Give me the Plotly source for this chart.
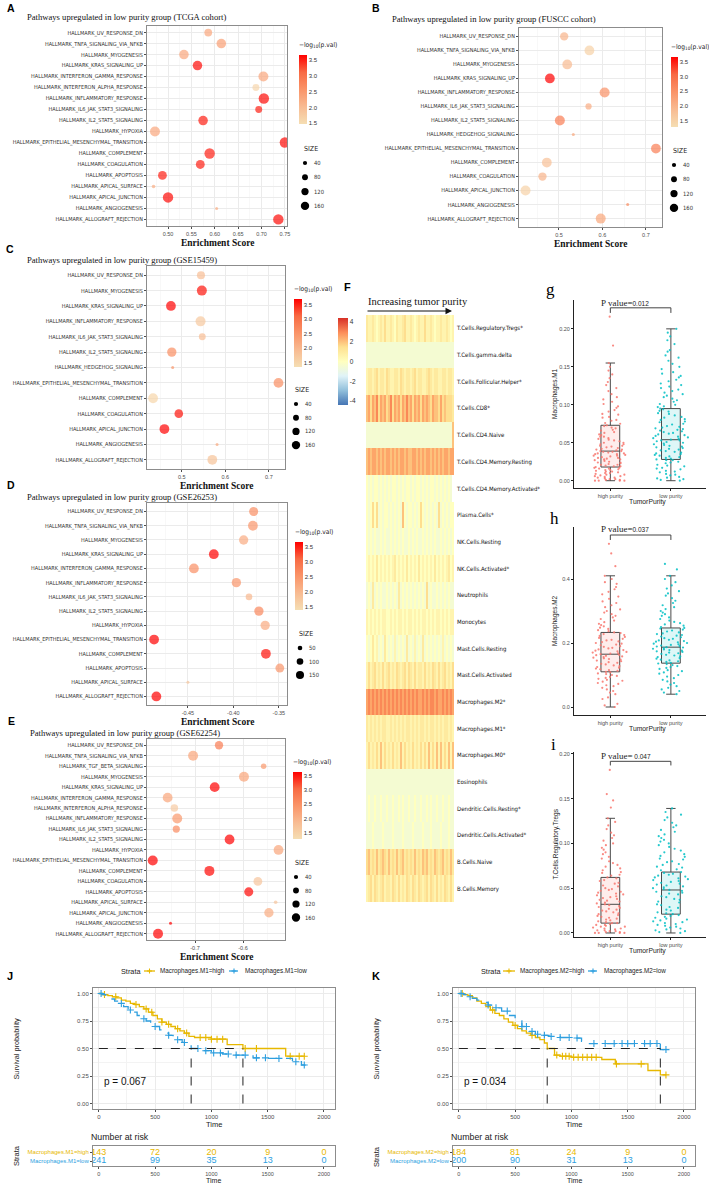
import math
import plotly.graph_objects as go

W, H = 709, 1185
SANS = "Liberation Sans, Arial, sans-serif"
NARROW = "Liberation Sans Narrow, DejaVu Sans Condensed, Arial Narrow, Roboto Condensed, sans-serif"
SERIF = "Liberation Serif, Times New Roman, serif"

# ------------------------------------------------------------------ data: GSEA bubble panels
A_paths = ["UV_RESPONSE_DN", "TNFA_SIGNALING_VIA_NFKB", "MYOGENESIS", "KRAS_SIGNALING_UP",
           "INTERFERON_GAMMA_RESPONSE", "INTERFERON_ALPHA_RESPONSE", "INFLAMMATORY_RESPONSE",
           "IL6_JAK_STAT3_SIGNALING", "IL2_STAT5_SIGNALING", "HYPOXIA",
           "EPITHELIAL_MESENCHYMAL_TRANSITION", "COMPLEMENT", "COAGULATION", "APOPTOSIS",
           "APICAL_SURFACE", "APICAL_JUNCTION", "ANGIOGENESIS", "ALLOGRAFT_REJECTION"]
A_es = [0.586, 0.614, 0.534, 0.563, 0.704, 0.688, 0.705, 0.694, 0.575, 0.472, 0.750, 0.589,
        0.569, 0.488, 0.469, 0.500, 0.604, 0.736]
A_logp = [2.3, 2.4, 2.3, 3.6, 2.3, 1.6, 3.6, 3.5, 3.5, 2.3, 3.6, 3.5, 3.5, 3.5, 2.2, 3.6, 2.2, 3.6]
A_size = [70, 105, 105, 105, 115, 55, 125, 55, 105, 115, 125, 125, 90, 90, 15, 125, 10, 125]

B_paths = ["UV_RESPONSE_DN", "TNFA_SIGNALING_VIA_NFKB", "MYOGENESIS", "KRAS_SIGNALING_UP",
           "INFLAMMATORY_RESPONSE", "IL6_JAK_STAT3_SIGNALING", "IL2_STAT5_SIGNALING",
           "HEDGEHOG_SIGNALING", "EPITHELIAL_MESENCHYMAL_TRANSITION", "COMPLEMENT", "COAGULATION",
           "APICAL_JUNCTION", "ANGIOGENESIS", "ALLOGRAFT_REJECTION"]
B_es = [0.512, 0.570, 0.519, 0.479, 0.605, 0.568, 0.502, 0.533, 0.723, 0.472, 0.462, 0.423, 0.658, 0.596]
B_logp = [2.0, 1.5, 1.9, 3.7, 2.5, 2.1, 2.8, 2.2, 2.8, 1.8, 2.0, 1.5, 2.6, 2.2]
B_size = [80, 110, 110, 110, 115, 45, 115, 8, 110, 110, 80, 115, 10, 115]

C_paths = ["UV_RESPONSE_DN", "MYOGENESIS", "KRAS_SIGNALING_UP", "INFLAMMATORY_RESPONSE",
           "IL6_JAK_STAT3_SIGNALING", "IL2_STAT5_SIGNALING", "HEDGEHOG_SIGNALING",
           "EPITHELIAL_MESENCHYMAL_TRANSITION", "COMPLEMENT", "COAGULATION", "APICAL_JUNCTION",
           "ANGIOGENESIS", "ALLOGRAFT_REJECTION"]
C_es = [0.544, 0.546, 0.475, 0.543, 0.547, 0.477, 0.479, 0.722, 0.434, 0.493, 0.460, 0.581, 0.570]
C_logp = [1.9, 3.6, 3.7, 1.7, 1.9, 2.6, 2.5, 2.6, 1.5, 3.6, 3.7, 2.2, 1.8]
C_size = [75, 115, 110, 115, 55, 100, 8, 110, 110, 85, 110, 6, 110]

D_paths = ["UV_RESPONSE_DN", "TNFA_SIGNALING_VIA_NFKB", "MYOGENESIS", "KRAS_SIGNALING_UP",
           "INTERFERON_GAMMA_RESPONSE", "INFLAMMATORY_RESPONSE", "IL6_JAK_STAT3_SIGNALING",
           "IL2_STAT5_SIGNALING", "HYPOXIA", "EPITHELIAL_MESENCHYMAL_TRANSITION", "COMPLEMENT",
           "APOPTOSIS", "APICAL_SURFACE", "ALLOGRAFT_REJECTION"]
D_es = [-0.3777, -0.3785, -0.3887, -0.4215, -0.4434, -0.3967, -0.3828, -0.3719, -0.3650,
        -0.4872, -0.3642, -0.3489, -0.4500, -0.4847]
D_logp = [2.6, 2.5, 2.2, 3.7, 2.6, 2.5, 2.0, 2.7, 2.2, 3.7, 3.6, 2.5, 1.8, 3.7]
D_size = [95, 110, 100, 110, 110, 100, 50, 100, 100, 110, 110, 90, 6, 110]

E_paths = ["UV_RESPONSE_DN", "TNFA_SIGNALING_VIA_NFKB", "TGF_BETA_SIGNALING", "MYOGENESIS",
           "KRAS_SIGNALING_UP", "INTERFERON_GAMMA_RESPONSE", "INTERFERON_ALPHA_RESPONSE",
           "INFLAMMATORY_RESPONSE", "IL6_JAK_STAT3_SIGNALING", "IL2_STAT5_SIGNALING", "HYPOXIA",
           "EPITHELIAL_MESENCHYMAL_TRANSITION", "COMPLEMENT", "COAGULATION", "APOPTOSIS",
           "APICAL_SURFACE", "APICAL_JUNCTION", "ANGIOGENESIS", "ALLOGRAFT_REJECTION"]
E_es = [-0.650, -0.704, -0.557, -0.598, -0.659, -0.757, -0.743, -0.737, -0.739, -0.628, -0.526,
        -0.788, -0.670, -0.569, -0.588, -0.532, -0.546, -0.751, -0.777]
E_logp = [2.8, 2.2, 2.4, 2.2, 3.7, 2.2, 1.6, 2.4, 2.6, 3.7, 2.2, 3.7, 3.6, 1.7, 3.6, 1.7, 2.1, 3.7, 3.7]
E_size = [80, 115, 35, 115, 110, 110, 65, 115, 60, 110, 110, 115, 115, 90, 95, 15, 100, 8, 115]

A_xticks = [0.50, 0.55, 0.60, 0.65, 0.70, 0.75]
A_xlabels = ["0.50", "0.55", "0.60", "0.65", "0.70", "0.75"]
BC_xticks = [0.5, 0.6, 0.7]
BC_xlabels = ["0.5", "0.6", "0.7"]
D_xticks = [-0.45, -0.40, -0.35]
D_xlabels = ["-0.45", "-0.40", "-0.35"]
E_xticks = [-0.7, -0.6]
E_xlabels = ["-0.7", "-0.6"]
P_ticks = [1.5, 2.0, 2.5, 3.0, 3.5]
P_labels = ["1.5", "2.0", "2.5", "3.0", "3.5"]
SIZE_legend_4 = [40, 80, 120, 160]
SIZE_legend_3 = [50, 100, 150]

# ------------------------------------------------------------------ data: heatmap (F)
F_rows = ["T.Cells.Regulatory.Tregs*", "T.Cells.gamma.delta", "T.Cells.Follicular.Helper*",
          "T.Cells.CD8*", "T.Cells.CD4.Naive", "T.Cells.CD4.Memory.Resting",
          "T.Cells.CD4.Memory.Activated*", "Plasma.Cells*", "NK.Cells.Resting", "NK.Cells.Activated*",
          "Neutrophils", "Monocytes", "Mast.Cells.Resting", "Mast.Cells.Activated", "Macrophages.M2*",
          "Macrophages.M1*", "Macrophages.M0*", "Eosinophils", "Dendritic.Cells.Resting*",
          "Dendritic.Cells.Activated*", "B.Cells.Naive", "B.Cells.Memory"]
# one character per sample column (ordered by tumor purity); level code -> value below
F_codes = [
    "21121012131121021123112101211311210112112101",
    "aaaaaaaaaaaaaaaaaaaaaaaaaaaaaaaaaaaaaaaaaaaa",
    "12212312213211221321221231221123212211221221",
    "45354635453463545354645354535454354435343332",
    "aaaaaaaaaaaaaaaaaaaaaaaaaaaaaaaaaaaaaaaaaaa4",
    "45455454545545454554544554545455454545455455",
    "0a0a00a0a0a0a00a0a0a00a0a00a0a0a00a0a0a0a0a",
    "0a0303a0a00a0a0a0a40a00a0a030a0a0a0a3a0a0a00",
    "0a0a0aa0a0aa0a0a0a0aa0a0a0aa0a0a0a0aa0a0a0a0",
    "01010201010101201010201010201010102010101201",
    "a0a2a0a0aa0a0a0a2a0a0a0a0a0a0a3a0aa0a0a0a0aa",
    "10101010110010101101011010101101010110101011",
    "0a0201a0a20a0a1a0a0a2a0a1a0a2a0a0a0a0a1a0a0a",
    "13123121312312132123132131221312132131231213",
    "56565656565656565656565656556565665655656565",
    "21212121221121212121221212122121221212122121",
    "13121314131213121413121312131314131414131414",
    "aaaaaaaaaaaaaaaaaaaaaaaaaaaaaaaaaaaaaaaaaaaa",
    "a0aa0aa0aa0aa0aa0a0aa0aa0aa0aa0a0aa0aa0aa0aa",
    "aaa0aaaa0aaaa0aaaa0aaaa0aaaa0aaa0aaaa0aaa0aa",
    "34232423432423242342323242324342324323423242",
    "12313212312213213121321321321231321312132131",
]
F_levels = {"a": -0.5, "0": 0.0, "1": 0.5, "2": 1.0, "3": 1.5, "4": 2.0, "5": 2.5, "6": 3.0}
F_cticks = [4, 2, 0, -2, -4]
F_clabels = ["4", "2", "0", "-2", "-4"]

# ------------------------------------------------------------------ data: box plots (g, h, i)
groups = ["high purity", "low purity"]
g_high = [0.000, 0.000, 0.000, 0.001, 0.002, 0.003, 0.004, 0.005, 0.006, 0.007, 0.008, 0.009, 0.010,
          0.011, 0.012, 0.013, 0.014, 0.015, 0.016, 0.017, 0.018, 0.019, 0.020, 0.021, 0.022, 0.024,
          0.025, 0.027, 0.028, 0.029, 0.030, 0.031, 0.033, 0.034, 0.035, 0.036, 0.037, 0.038, 0.039,
          0.040, 0.041, 0.043, 0.045, 0.046, 0.048, 0.050, 0.052, 0.054, 0.056, 0.058, 0.061, 0.064,
          0.067, 0.070, 0.073, 0.076, 0.080, 0.084, 0.088, 0.093, 0.098, 0.104, 0.110, 0.118, 0.126,
          0.135, 0.145, 0.155, 0.178, 0.216,
          0.000, 0.001, 0.002, 0.004, 0.006, 0.008, 0.010, 0.012, 0.014, 0.016, 0.017, 0.019, 0.021,
          0.023, 0.024, 0.026, 0.028, 0.030, 0.032, 0.033, 0.035, 0.036, 0.038, 0.039, 0.041, 0.042,
          0.044, 0.046, 0.048, 0.050, 0.053, 0.055, 0.058, 0.060, 0.063, 0.066, 0.069, 0.072, 0.075,
          0.079, 0.083, 0.087, 0.091, 0.096, 0.101, 0.107, 0.114, 0.122, 0.130, 0.140, 0.150]
g_low = [0.000, 0.001, 0.003, 0.005, 0.007, 0.009, 0.011, 0.013, 0.015, 0.017, 0.019, 0.021, 0.023,
         0.025, 0.027, 0.028, 0.030, 0.032, 0.034, 0.036, 0.038, 0.040, 0.042, 0.044, 0.046, 0.047,
         0.049, 0.050, 0.052, 0.053, 0.054, 0.056, 0.058, 0.060, 0.062, 0.064, 0.066, 0.068, 0.070,
         0.072, 0.075, 0.078, 0.080, 0.083, 0.086, 0.089, 0.092, 0.095, 0.098, 0.101, 0.104, 0.108,
         0.112, 0.116, 0.120, 0.124, 0.128, 0.133, 0.138, 0.143, 0.150, 0.158, 0.165, 0.172, 0.180,
         0.190, 0.200,
         0.002, 0.004, 0.008, 0.012, 0.016, 0.020, 0.024, 0.027, 0.029, 0.031, 0.033, 0.035, 0.037,
         0.039, 0.041, 0.043, 0.045, 0.048, 0.051, 0.053, 0.055, 0.057, 0.059, 0.061, 0.063, 0.065,
         0.067, 0.069, 0.071, 0.074, 0.077, 0.081, 0.084, 0.088, 0.091, 0.094, 0.097, 0.100, 0.106,
         0.110, 0.114, 0.118, 0.122, 0.126, 0.131, 0.136, 0.141, 0.147, 0.154, 0.162, 0.170, 0.185,
         0.195]
h_high = [0.000, 0.010, 0.025, 0.040, 0.050, 0.060, 0.068, 0.075, 0.082, 0.088, 0.094, 0.100, 0.105,
          0.110, 0.115, 0.120, 0.125, 0.130, 0.135, 0.140, 0.145, 0.150, 0.154, 0.158, 0.162, 0.165,
          0.168, 0.172, 0.176, 0.180, 0.185, 0.190, 0.195, 0.200, 0.205, 0.210, 0.216, 0.222, 0.228,
          0.233, 0.240, 0.248, 0.256, 0.265, 0.275, 0.285, 0.295, 0.305, 0.318, 0.330, 0.345, 0.360,
          0.375, 0.390, 0.410, 0.440, 0.480, 0.510,
          0.005, 0.030, 0.045, 0.055, 0.065, 0.072, 0.079, 0.085, 0.091, 0.097, 0.103, 0.108, 0.113,
          0.118, 0.123, 0.128, 0.133, 0.138, 0.143, 0.148, 0.152, 0.156, 0.160, 0.163, 0.167, 0.170,
          0.174, 0.178, 0.183, 0.188, 0.193, 0.198, 0.203, 0.208, 0.213, 0.219, 0.225, 0.231, 0.237,
          0.244, 0.252, 0.260, 0.270, 0.280, 0.290, 0.300, 0.312, 0.325, 0.338, 0.352, 0.368, 0.385,
          0.400]
h_low = [0.040, 0.050, 0.060, 0.070, 0.080, 0.090, 0.100, 0.108, 0.115, 0.122, 0.128, 0.134, 0.138,
         0.143, 0.148, 0.153, 0.158, 0.163, 0.168, 0.172, 0.176, 0.180, 0.184, 0.187, 0.190, 0.194,
         0.198, 0.202, 0.206, 0.210, 0.215, 0.220, 0.225, 0.230, 0.236, 0.242, 0.247, 0.254, 0.262,
         0.270, 0.280, 0.290, 0.300, 0.312, 0.325, 0.340, 0.355, 0.370, 0.390, 0.410, 0.447,
         0.045, 0.055, 0.065, 0.075, 0.085, 0.095, 0.104, 0.112, 0.119, 0.125, 0.131, 0.136, 0.141,
         0.146, 0.151, 0.156, 0.161, 0.166, 0.170, 0.174, 0.178, 0.182, 0.186, 0.189, 0.192, 0.196,
         0.200, 0.204, 0.208, 0.213, 0.218, 0.223, 0.228, 0.233, 0.239, 0.245, 0.250, 0.258, 0.266,
         0.275, 0.285, 0.295, 0.306, 0.318, 0.332, 0.348, 0.362, 0.380, 0.400, 0.430]
i_high = [0.000, 0.000, 0.000, 0.001, 0.002, 0.003, 0.004, 0.005, 0.006, 0.007, 0.008, 0.009, 0.010,
          0.011, 0.013, 0.015, 0.017, 0.019, 0.021, 0.023, 0.025, 0.027, 0.029, 0.031, 0.032, 0.034,
          0.036, 0.038, 0.040, 0.042, 0.044, 0.046, 0.048, 0.050, 0.053, 0.056, 0.059, 0.062, 0.065,
          0.068, 0.072, 0.076, 0.080, 0.085, 0.090, 0.095, 0.100, 0.106, 0.112, 0.120, 0.128, 0.140,
          0.148, 0.155, 0.182,
          0.000, 0.001, 0.002, 0.003, 0.005, 0.007, 0.009, 0.011, 0.012, 0.014, 0.016, 0.018, 0.020,
          0.022, 0.024, 0.026, 0.028, 0.030, 0.033, 0.035, 0.037, 0.039, 0.041, 0.043, 0.045, 0.047,
          0.049, 0.052, 0.055, 0.058, 0.061, 0.064, 0.067, 0.070, 0.074, 0.078, 0.083, 0.088, 0.093,
          0.098, 0.103, 0.109, 0.116, 0.124]
i_low = [0.000, 0.001, 0.003, 0.005, 0.007, 0.009, 0.011, 0.013, 0.015, 0.017, 0.019, 0.021, 0.023,
         0.026, 0.029, 0.032, 0.035, 0.038, 0.041, 0.044, 0.046, 0.048, 0.050, 0.052, 0.054, 0.056,
         0.058, 0.060, 0.062, 0.064, 0.066, 0.068, 0.071, 0.074, 0.077, 0.080, 0.083, 0.086, 0.090,
         0.094, 0.098, 0.102, 0.106, 0.110, 0.115, 0.120, 0.126, 0.132, 0.139,
         0.002, 0.004, 0.006, 0.008, 0.010, 0.012, 0.014, 0.016, 0.018, 0.020, 0.022, 0.025, 0.028,
         0.031, 0.034, 0.037, 0.040, 0.043, 0.045, 0.047, 0.049, 0.051, 0.053, 0.055, 0.057, 0.059,
         0.061, 0.063, 0.065, 0.067, 0.070, 0.073, 0.076, 0.079, 0.082, 0.085, 0.088, 0.092, 0.096,
         0.100, 0.104, 0.108, 0.113, 0.118, 0.123, 0.129, 0.135]
# box statistics [q1, median, q3, lower whisker, upper whisker]
g_stats = {"high": [0.018, 0.039, 0.073, 0.0, 0.155], "low": [0.028, 0.054, 0.095, 0.0, 0.200]}
h_stats = {"high": [0.110, 0.165, 0.233, 0.0, 0.410], "low": [0.137, 0.187, 0.247, 0.040, 0.410]}
i_stats = {"high": [0.011, 0.032, 0.062, 0.0, 0.128], "low": [0.021, 0.048, 0.068, 0.0, 0.139]}
g_yticks = [0.0, 0.05, 0.10, 0.15, 0.20]
g_ylabels = ["0.00", "0.05", "0.10", "0.15", "0.20"]
h_yticks = [0.0, 0.2, 0.4]
h_ylabels = ["0.0", "0.2", "0.4"]
i_yticks = [0.0, 0.05, 0.10, 0.15, 0.20]
i_ylabels = ["0.00", "0.05", "0.10", "0.15", "0.20"]

# ------------------------------------------------------------------ data: survival (J, K)
J_hi_t = [0, 40, 80, 120, 160, 200, 240, 280, 320, 360, 400, 440, 480, 520, 560, 600, 640, 680, 720,
          760, 800, 850, 1000, 1140, 1280, 1660, 1830]
J_hi_s = [1.0, 0.99, 0.98, 0.97, 0.96, 0.94, 0.93, 0.91, 0.90, 0.88, 0.86, 0.83, 0.80, 0.77, 0.74,
          0.72, 0.70, 0.68, 0.66, 0.64, 0.61, 0.60, 0.585, 0.535, 0.50, 0.43, 0.43]
J_lo_t = [0, 30, 60, 100, 140, 180, 220, 260, 300, 340, 380, 420, 460, 500, 540, 580, 620, 660, 700,
          740, 780, 820, 900, 1000, 1100, 1200, 1370, 1500, 1720, 1800, 1830]
J_lo_s = [1.0, 0.99, 0.97, 0.95, 0.93, 0.91, 0.88, 0.85, 0.83, 0.80, 0.77, 0.75, 0.72, 0.70, 0.67,
          0.64, 0.62, 0.60, 0.58, 0.555, 0.54, 0.50, 0.48, 0.46, 0.45, 0.44, 0.415, 0.41, 0.38, 0.35, 0.34]
J_hi_cens = [50, 150, 330, 420, 470, 560, 620, 700, 780, 900, 950, 1000, 1050, 1100, 1300, 1400, 1700, 1780, 1825]
J_lo_cens = [20, 200, 280, 400, 500, 620, 700, 760, 880, 950, 1020, 1080, 1150, 1220, 1300, 1400, 1480, 1600, 1750, 1825]
K_hi_t = [0, 40, 80, 120, 160, 200, 240, 280, 320, 360, 400, 440, 480, 520, 560, 600, 640, 680, 720,
          760, 785, 850, 900, 1000, 1270, 1390, 1680, 1790, 1840]
K_hi_s = [1.0, 0.99, 0.98, 0.96, 0.93, 0.91, 0.88, 0.85, 0.82, 0.80, 0.77, 0.74, 0.71, 0.68, 0.66,
          0.64, 0.62, 0.60, 0.58, 0.55, 0.50, 0.44, 0.43, 0.42, 0.40, 0.36, 0.30, 0.26, 0.26]
K_lo_t = [0, 40, 80, 120, 160, 200, 260, 320, 380, 440, 500, 560, 620, 680, 740, 800, 900, 1000,
          1090, 1150, 1790, 1840]
K_lo_s = [1.0, 0.99, 0.97, 0.955, 0.94, 0.92, 0.895, 0.87, 0.84, 0.80, 0.75, 0.70, 0.655, 0.63,
          0.62, 0.61, 0.60, 0.595, 0.565, 0.545, 0.49, 0.49]
K_hi_cens = [30, 300, 500, 650, 870, 920, 950, 980, 1020, 1060, 1100, 1140, 1180, 1220, 1400, 1620, 1840]
K_lo_cens = [20, 100, 260, 330, 430, 560, 600, 650, 700, 760, 820, 900, 980, 1050, 1200, 1300, 1380,
             1450, 1500, 1560, 1650, 1700, 1760, 1840]
risk_times = [0, 500, 1000, 1500, 2000]
J_risk_hi = [143, 72, 20, 9, 0]
J_risk_lo = [241, 99, 35, 13, 0]
K_risk_hi = [184, 81, 24, 9, 0]
K_risk_lo = [200, 90, 31, 13, 0]
surv_yticks = [0, 0.25, 0.5, 0.75, 1.0]
surv_ylabels = ["0.00", "0.25", "0.50", "0.75", "1.00"]
surv_xticks = [0, 500, 1000, 1500, 2000]

# ------------------------------------------------------------------ helpers
fig = go.Figure()
layout = {}
annotations = []
shapes = []


def px_x(p):
    return p / W


def px_y(p):
    return 1 - p / H


def dom_x(l, r):
    return [l / W, r / W]


def dom_y(t, b):
    return [1 - b / H, 1 - t / H]


def text(x, y, s, size, family=SANS, color="#000", xanchor="left", yanchor="middle", angle=0):
    annotations.append(dict(x=px_x(x), y=px_y(y), xref="paper", yref="paper", text=s,
                            showarrow=False, font=dict(size=size, family=family, color=color),
                            xanchor=xanchor, yanchor=yanchor, textangle=angle))


def pline(x0, y0, x1, y1, color, width=1, dash="solid"):
    shapes.append(dict(type="line", xref="paper", yref="paper", x0=px_x(x0), y0=px_y(y0),
                       x1=px_x(x1), y1=px_y(y1), line=dict(color=color, width=width, dash=dash)))


BUBBLE_CS = [[0, "#F5DEB3"], [0.25, "#F8BB92"], [0.5, "#FA9468"], [0.75, "#F86A43"], [1, "#FF0000"]]
SIZEREF = 2.3
GRID = "#EBEBEB"
MINOR = "#F3F3F3"
BORDER = "#8C8C8C"
TICKC = "#4D4D4D"


def bubble_panel(k, paths, es, logp, size, crange, box, xr, xt, xl, title, tpos, label, lpos,
                 cbar, legend_vals, legend_pos):
    names = ["HALLMARK_" + p for p in paths]
    n = len(names)
    l, t, r, b = box
    cx0, cy0, cx1, cy1 = cbar
    fig.add_trace(go.Scatter(
        x=es, y=names, mode="markers", xaxis=f"x{k}", yaxis=f"y{k}", showlegend=False,
        marker=dict(size=size, sizemode="area", sizeref=SIZEREF, sizemin=1.5, color=logp,
                    colorscale=BUBBLE_CS, cmin=crange[0], cmax=crange[1], line=dict(width=0),
                    showscale=True,
                    colorbar=dict(x=px_x(cx0), xanchor="left", y=px_y(cy0), yanchor="top",
                                  len=cy1 - cy0, lenmode="pixels", thickness=cx1 - cx0,
                                  thicknessmode="pixels", xpad=0, ypad=0, outlinewidth=0,
                                  tickmode="array", tickvals=P_ticks, ticktext=P_labels,
                                  ticks="", tickfont=dict(size=6, family=SANS, color="#333")))))
    step = xt[1] - xt[0]
    minor_vals = [xt[0] - step / 2] + [v + step / 2 for v in xt]
    layout[f"xaxis{k}"] = dict(domain=dom_x(l, r), anchor=f"y{k}", range=xr, tickmode="array",
                              tickvals=xt, ticktext=xl, showgrid=True, gridcolor=GRID, gridwidth=1,
                              minor=dict(tickmode="array", tickvals=minor_vals, showgrid=True,
                                         gridcolor=MINOR, gridwidth=0.6, ticks=""),
                              zeroline=False, showline=True, mirror=True, linecolor=BORDER,
                              linewidth=1, ticks="outside", ticklen=2, tickcolor=TICKC,
                              tickfont=dict(size=5.5, family=SANS, color=TICKC))
    layout[f"yaxis{k}"] = dict(domain=dom_y(t, b), anchor=f"x{k}", type="category",
                              categoryorder="array", categoryarray=names, range=[n - 0.4, -0.6],
                              showgrid=True, gridcolor=GRID, gridwidth=1, zeroline=False,
                              showline=True, mirror=True, linecolor=BORDER, linewidth=1,
                              ticks="outside", ticklen=2, tickcolor=TICKC,
                              tickfont=dict(size=5.5, family=NARROW, color="#333"))
    text(tpos[0], tpos[1], title, 8.6, SERIF, "#111")
    text(lpos[0], lpos[1], "<b>" + label + "</b>", 10.5, SANS, "#000", xanchor="center")
    text((l + r) / 2, b + 17, "<b>Enrichment Score</b>", 9.5, SERIF, "#111", xanchor="center")
    text(cx0 - 2, cy0 - 10, "\u2212log<sub>10</sub>(p.val)", 6.6, NARROW, "#222")
    lx, ly0, dy = legend_pos
    text(lx - 3, ly0 - 14, "SIZE", 7, NARROW, "#222")
    for j, v in enumerate(legend_vals):
        d = math.sqrt(v / SIZEREF)
        cy = ly0 + j * dy
        shapes.append(dict(type="circle", xref="paper", yref="paper", xsizemode="pixel",
                           ysizemode="pixel", xanchor=px_x(lx), yanchor=px_y(cy), x0=-d / 2,
                           x1=d / 2, y0=-d / 2, y1=d / 2, fillcolor="#000", line=dict(width=0)))
        text(lx + 7, cy, str(v), 5.8, NARROW, "#333")


bubble_panel(1, A_paths, A_es, A_logp, A_size, (1.48, 3.66), (147, 26, 287, 226), [0.455, 0.7545],
             A_xticks, A_xlabels, "Pathways upregulated in low purity group (TCGA cohort)", (25, 17),
             "A", (11, 8), (299, 55, 307, 124), SIZE_legend_4, (305, 163, 14.3))
bubble_panel(2, B_paths, B_es, B_logp, B_size, (1.29, 3.66), (519, 28, 662, 227), [0.408, 0.737],
             BC_xticks, BC_xlabels, "Pathways upregulated in low purity group (FUSCC cohort)", (390, 19),
             "B", (376, 8), (671, 57, 678, 127), SIZE_legend_4, (674, 165, 14.3))
bubble_panel(3, C_paths, C_es, C_logp, C_size, (1.34, 3.71), (147, 266, 285, 469), [0.42, 0.737],
             BC_xticks, BC_xlabels, "Pathways upregulated in low purity group (GSE15459)", (25, 260),
             "C", (10, 249), (294, 299, 302, 367), SIZE_legend_4, (296, 404, 13.7))
bubble_panel(4, D_paths, D_es, D_logp, D_size, (1.39, 3.68), (147, 503, 287, 705), [-0.495, -0.341],
             D_xticks, D_xlabels, "Pathways upregulated in low purity group (GSE26253)", (25, 497),
             "D", (11, 485), (295, 542, 303, 610), SIZE_legend_3, (300, 648, 13.5))
bubble_panel(5, E_paths, E_es, E_logp, E_size, (1.29, 3.63), (147, 739, 285, 940), [-0.80, -0.5125],
             E_xticks, E_xlabels, "Pathways upregulated in low purity group (GSE62254)", (28, 733),
             "E", (11, 721), (293, 772, 302, 839), SIZE_legend_4, (296, 877, 13.5))

# ------------------------------------------------------------------ F heatmap
Z = [[F_levels[c] for c in row] for row in F_codes]
ncol = len(F_codes[0])
PHEAT = ["#4575B4", "#91BFDB", "#E0F3F8", "#FFFFBF", "#FEE090", "#FC8D59", "#D73027"]
heat_cs = [[i / (len(PHEAT) - 1), c] for i, c in enumerate(PHEAT)]
fig.add_trace(go.Heatmap(z=Z, x=list(range(ncol)), y=F_rows, xaxis="x6", yaxis="y6",
                         colorscale=heat_cs, zmin=-4.4, zmax=4.4, showscale=True,
                         colorbar=dict(x=px_x(338), xanchor="left", y=px_y(318), yanchor="top",
                                       len=87, lenmode="pixels", thickness=10,
                                       thicknessmode="pixels", xpad=0, ypad=0, outlinewidth=0,
                                       tickmode="array", tickvals=F_cticks, ticktext=F_clabels,
                                       ticks="", tickfont=dict(size=6.5, family=SANS, color="#333"))))
layout["xaxis6"] = dict(domain=dom_x(366, 454), anchor="y6", range=[-0.5, ncol - 0.5],
                        showgrid=False, zeroline=False, showticklabels=False, ticks="")
layout["yaxis6"] = dict(domain=dom_y(315, 902), anchor="x6", type="category",
                        categoryorder="array", categoryarray=F_rows, autorange="reversed",
                        side="right", showgrid=False, zeroline=False, ticks="",
                        ticklabelstandoff=2, tickfont=dict(size=6.0, family=NARROW, color="#111"))
text(347, 287, "<b>F</b>", 11, SANS, "#000", xanchor="center")
text(366, 302, "Increasing tumor purity", 10.5, SERIF, "#111")
annotations.append(dict(x=px_x(452), y=px_y(311), xref="paper", yref="paper", text="",
                        showarrow=True, ax=-86, ay=0, arrowhead=2, arrowsize=1.3, arrowwidth=1,
                        arrowcolor="#111"))

# ------------------------------------------------------------------ box plots g, h, i
HI_COL, LO_COL = "#F8766D", "#00BFC4"


def box_panel(k, hi, lo, stats, box, yr, yt, yl, ylab, letter, lpos, ptxt, pys):
    l, t, r, b = box
    for gi, (pts, col, fill, key) in enumerate([(hi, HI_COL, "rgba(248,118,109,0.13)", "high"),
                                                 (lo, LO_COL, "rgba(0,191,196,0.13)", "low")]):
        q1, med, q3, lf, uf = stats[key]
        fig.add_trace(go.Box(x=[gi], q1=[q1], median=[med], q3=[q3], lowerfence=[lf],
                             upperfence=[uf], width=0.31, fillcolor=fill, boxpoints=False,
                             line=dict(color="#4a4a4a", width=1), xaxis=f"x{k}", yaxis=f"y{k}",
                             showlegend=False, hoverinfo="skip"))
        fig.add_trace(go.Box(x=[gi] * len(pts), y=pts, boxpoints="all", jitter=1, pointpos=0,
                             width=0.6, fillcolor="rgba(0,0,0,0)",
                             line=dict(color="rgba(0,0,0,0)", width=0),
                             marker=dict(size=2.2, color=col, opacity=0.85, line=dict(width=0)),
                             xaxis=f"x{k}", yaxis=f"y{k}", showlegend=False, hoverinfo="skip"))
    layout[f"xaxis{k}"] = dict(domain=dom_x(l, r), anchor=f"y{k}", range=[-0.6, 1.58],
                              tickmode="array", tickvals=[0, 1], ticktext=groups, showgrid=False,
                              zeroline=False, showline=True, linecolor="#222", linewidth=1,
                              ticks="outside", ticklen=2, tickcolor="#222",
                              tickfont=dict(size=5.5, family=SANS, color=TICKC))
    layout[f"yaxis{k}"] = dict(domain=dom_y(t, b), anchor=f"x{k}", range=yr, tickmode="array",
                              tickvals=yt, ticktext=yl, showgrid=False, zeroline=False,
                              showline=True, linecolor="#222", linewidth=1, ticks="outside",
                              ticklen=2, tickcolor="#222",
                              tickfont=dict(size=5.5, family=SANS, color=TICKC))
    text(555, (t + b) / 2, ylab, 6.5, SANS, "#222", xanchor="center", angle=-90)
    text((l + r) / 2 + 7, b + 14, "TumorPurity", 6.8, SANS, "#222", xanchor="center")
    text(lpos[0], lpos[1], letter, 17, SERIF, "#000", xanchor="center")
    ty, by, dy = pys
    annotations.append(dict(x=-0.18, y=ty, xref=f"x{k}", yref=f"y{k}", text=ptxt, showarrow=False,
                            xanchor="left", yanchor="middle",
                            font=dict(size=9, family=SERIF, color="#222")))
    for x0, y0, x1, y1 in [(0, by, 1, by), (0, dy, 0, by), (1, dy, 1, by)]:
        shapes.append(dict(type="line", xref=f"x{k}", yref=f"y{k}", x0=x0, y0=y0, x1=x1, y1=y1,
                           line=dict(color="#444", width=1)))


SMALL = '<span style="font-family:Liberation Sans, Arial, sans-serif; font-size:6.5px">'
box_panel(7, g_high, g_low, g_stats, (574, 300, 706, 488), [-0.0096, 0.238], g_yticks, g_ylabels,
          "Macrophages.M1", "g", (550, 289), "P value=" + SMALL + "0.012</span>", (0.234, 0.2277, 0.221))
box_panel(8, h_high, h_low, h_stats, (574, 527, 706, 715), [-0.025, 0.5625], h_yticks, h_ylabels,
          "Macrophages.M2", "h", (554, 518), "P value=" + SMALL + "0.037</span>", (0.556, 0.5375, 0.522))
box_panel(9, i_high, i_low, i_stats, (574, 752, 706, 937), [-0.0045, 0.202], i_yticks, i_ylabels,
          "T.Cells.Regulatory.Tregs", "i", (553, 744), "P value=" + SMALL + " 0.047</span>", (0.197, 0.1916, 0.187))

# ------------------------------------------------------------------ survival J, K
YEL, BLU = "#E7B800", "#2E9FDF"


def step_val(ts, ss, x):
    v = ss[0]
    for tt, s in zip(ts, ss):
        if tt <= x:
            v = s
    return v


def median_time(ts, ss):
    for tt, s in zip(ts, ss):
        if s <= 0.5:
            return tt
    return None


def legend_item(x0, x1, y, col, dash):
    pline(x0, y, x1, y, col, 1.3, dash)
    xm = (x0 + x1) / 2
    pline(xm - 2.5, y, xm + 2.5, y, col, 1.1)
    pline(xm, y - 2.5, xm, y + 2.5, col, 1.1)


def surv_panel(kp, kr, hi_t, hi_s, lo_t, lo_s, hi_c, lo_c, rk_hi, rk_lo, names, pval, box, rbox,
               xoff, leg, letter_pos):
    l, t, r, b = box
    rl, rt, rr, rb = rbox
    xr = [-52, 2098]
    for ts, ss, col, dash, cens in [(hi_t, hi_s, YEL, "solid", hi_c), (lo_t, lo_s, BLU, "dash", lo_c)]:
        fig.add_trace(go.Scatter(x=ts, y=ss, mode="lines", line=dict(shape="hv", color=col, width=1.3,
                                 dash=dash), xaxis=f"x{kp}", yaxis=f"y{kp}", showlegend=False))
        fig.add_trace(go.Scatter(x=cens, y=[step_val(ts, ss, c) for c in cens], mode="markers",
                                 marker=dict(symbol="cross-thin", size=5,
                                             line=dict(color=col, width=1.1)),
                                 xaxis=f"x{kp}", yaxis=f"y{kp}", showlegend=False))
    m1 = median_time(hi_t, hi_s)
    m2 = median_time(lo_t, lo_s)
    for x0, y0, x1, y1 in [(0, 0.5, max(m1, m2), 0.5), (m1, 0, m1, 0.5), (m2, 0, m2, 0.5)]:
        shapes.append(dict(type="line", xref=f"x{kp}", yref=f"y{kp}", x0=x0, y0=y0, x1=x1, y1=y1,
                           line=dict(color="#222", width=1, dash="dash")))
    annotations.append(dict(x=30, y=0.2, xref=f"x{kp}", yref=f"y{kp}", text=pval, showarrow=False,
                            xanchor="left", yanchor="middle",
                            font=dict(size=10, family=SANS, color="#111")))
    layout[f"xaxis{kp}"] = dict(domain=dom_x(l, r), anchor=f"y{kp}", range=xr, tickmode="array",
                               tickvals=surv_xticks, showgrid=True, gridcolor=GRID,
                               minor=dict(tickmode="array", tickvals=[250, 750, 1250, 1750],
                                          showgrid=True, gridcolor=MINOR, ticks=""),
                               zeroline=False, showline=True, mirror=True, linecolor=BORDER,
                               ticks="outside", ticklen=2, tickcolor=TICKC,
                               tickfont=dict(size=6, family=SANS, color=TICKC))
    layout[f"yaxis{kp}"] = dict(domain=dom_y(t, b), anchor=f"x{kp}", range=[-0.05, 1.05],
                               tickmode="array", tickvals=surv_yticks, ticktext=surv_ylabels,
                               showgrid=True, gridcolor=GRID,
                               minor=dict(tickmode="array", tickvals=[0.125, 0.375, 0.625, 0.875],
                                          showgrid=True, gridcolor=MINOR, ticks=""),
                               zeroline=False, showline=True, mirror=True, linecolor=BORDER,
                               ticks="outside", ticklen=2, tickcolor=TICKC,
                               tickfont=dict(size=6, family=SANS, color=TICKC))
    text((l + r) / 2, b + 15, "Time", 7.5, SANS, "#222", xanchor="center")
    text(xoff + 16, (t + b) / 2, "Survival probability", 7.3, SANS, "#222", xanchor="center", angle=-90)
    text(letter_pos[0], letter_pos[1], "<b>" + letter_pos[2] + "</b>", 11, SANS, "#000", xanchor="center")
    # legend (drawn by hand)
    sx, y1x0, y1x1, lab1, y2x0, y2x1, lab2 = leg
    text(sx, 971, "Strata", 7.3, SANS, "#222")
    legend_item(y1x0, y1x1, 971, YEL, "solid")
    text(lab1, 971, names[0], 6.3, SANS, "#222")
    legend_item(y2x0, y2x1, 971, BLU, "dash")
    text(lab2, 971, names[1], 6.3, SANS, "#222")
    # risk table
    for row, (vals, col) in enumerate([(rk_hi, YEL), (rk_lo, BLU)]):
        fig.add_trace(go.Scatter(x=risk_times, y=[row] * len(vals), mode="text",
                                 text=[str(v) for v in vals],
                                 textfont=dict(size=9, family=SANS, color=col),
                                 xaxis=f"x{kr}", yaxis=f"y{kr}", showlegend=False))
    layout[f"xaxis{kr}"] = dict(domain=dom_x(rl, rr), anchor=f"y{kr}", range=xr, tickmode="array",
                               tickvals=surv_xticks, showgrid=False, zeroline=False, showline=True,
                               mirror=True, linecolor=BORDER, ticks="outside", ticklen=2,
                               tickcolor=TICKC, tickfont=dict(size=5.5, family=SANS, color=TICKC))
    layout[f"yaxis{kr}"] = dict(domain=dom_y(rt, rb), anchor=f"x{kr}", range=[1.54, -0.72],
                               tickmode="array", tickvals=[0, 1],
                               ticktext=[f'<span style="color:{YEL}">{names[0]}</span>',
                                         f'<span style="color:{BLU}">{names[1]}</span>'],
                               showgrid=False, zeroline=False, showline=True, mirror=True,
                               linecolor=BORDER, ticks="outside", ticklen=2, tickcolor=TICKC,
                               tickfont=dict(size=6.0, family=SANS))
    text(rl - 4, rt - 9, "Number at risk", 8.8, SANS, "#222")
    text(xoff + 16, (rt + rb) / 2, "Strata", 7.5, SANS, "#222", xanchor="center", angle=-90)
    text((rl + rr) / 2, 1180, "Time", 7, SANS, "#222", xanchor="center")


surv_panel(10, 11, J_hi_t, J_hi_s, J_lo_t, J_lo_s, J_hi_cens, J_lo_cens, J_risk_hi, J_risk_lo,
           ["Macrophages.M1=high", "Macrophages.M1=low"], "p = 0.067", (93, 988, 335, 1109),
           (93, 1146, 335, 1166), 0, (119, 144, 155, 158, 229, 239, 243), (10, 976, "J"))
surv_panel(12, 13, K_hi_t, K_hi_s, K_lo_t, K_lo_s, K_hi_cens, K_lo_cens, K_risk_hi, K_risk_lo,
           ["Macrophages.M2=high", "Macrophages.M2=low"], "p = 0.034", (453, 988, 695, 1109),
           (453, 1146, 695, 1166), 360, (479, 503, 515, 518, 588, 598, 602), (376, 976, "K"))

# keep every panel exactly where it is placed: no automatic margin growth
for key in layout:
    if key.startswith("xaxis") or key.startswith("yaxis"):
        layout[key]["automargin"] = False

fig.update_layout(width=W, height=H, autosize=False, margin=dict(l=0, r=0, t=0, b=0, autoexpand=False),
                  paper_bgcolor="white", plot_bgcolor="white", annotations=annotations,
                  shapes=shapes, boxmode="overlay", showlegend=False, font=dict(family=SANS),
                  **layout)
# the page's default 8px body margin would shift the 709x1185 figure; remove it
fig.write_html("out.html", config={"displayModeBar": False, "staticPlot": True},
               post_script="document.body.style.margin='0px';")
